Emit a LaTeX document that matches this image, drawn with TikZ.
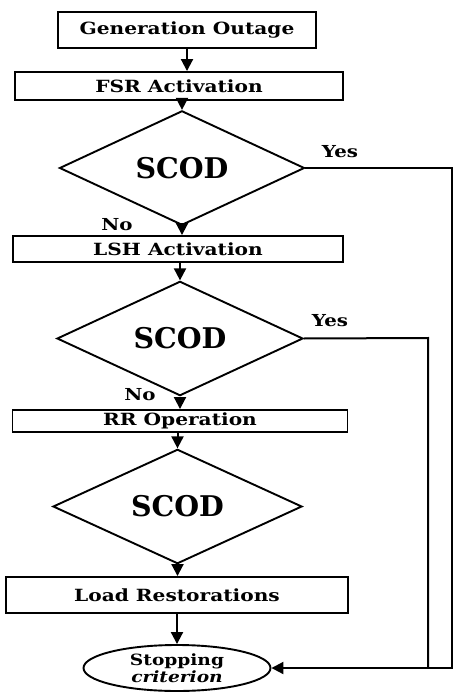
\documentclass[tikz,border=0pt]{standalone}
\usepackage{fontspec}
\setmainfont{DejaVu Serif}
\newfontfamily\boxfont[FakeStretch=1.2]{DejaVu Serif}
\usetikzlibrary{shapes.geometric,arrows.meta}
\begin{document}
\begin{tikzpicture}[x=1pt,y=-1pt,
  proc/.style={draw, line width=1.9pt, inner sep=0pt, font=\boxfont\bfseries\fontsize{16.8}{19}\selectfont},
  dec/.style={draw, diamond, line width=1.9pt, inner sep=0pt, font=\bfseries\fontsize{28.5}{32}\selectfont},
  conn/.style={line width=2pt, -{Triangle[length=12pt,width=12pt]}},
  link/.style={line width=2pt},
  lbl/.style={font=\boxfont\bfseries\fontsize{16.5}{18}\selectfont, inner sep=0pt},
  stoplbl/.style={font=\boxfont\bfseries\fontsize{15.5}{17}\selectfont, inner sep=0pt}]
\useasboundingbox (0,0) rectangle (457,692);
\node[proc, minimum width=258pt, minimum height=36pt] (gen) at (187,30) {Generation Outage};
\node[proc, minimum width=328pt, minimum height=28pt] (fsr) at (179,86) {FSR Activation};
\node[dec, minimum width=245pt, minimum height=80pt] (d1) at (182,168) {SCOD};
\node[proc, minimum width=330pt, minimum height=26pt] (lsh) at (178,249) {LSH Activation};
\node[dec, minimum width=246pt, minimum height=79pt] (d2) at (180,338.5) {SCOD};
\node[proc, minimum width=335pt, minimum height=22pt] (rr) at (180,421) {RR Operation};
\node[dec, minimum width=249pt, minimum height=83pt] (d3) at (177.5,506.5) {SCOD};
\node[proc, minimum width=342pt, minimum height=36pt] (lr) at (177,595) {Load Restorations};
\node[ellipse, draw, line width=1.9pt, minimum width=187pt, minimum height=46pt] (stop) at (177,668) {};
\node[stoplbl, align=center] (stoptxt) at (stop) {Stopping\\\textit{criterion}};
\coordinate (o1) at (452,168);
\coordinate (o2) at (428,338);
\draw[conn] (gen.south) -- (gen.south |- fsr.north);
\draw[conn] (fsr.south -| d1.north) -- (d1.north);
\draw[conn] (d1.south) -- (d1.south |- lsh.north);
\draw[conn] (lsh.south -| d2.north) -- (d2.north);
\draw[conn] (d2.south) -- (d2.south |- rr.north);
\draw[conn] (rr.south -| d3.north) -- (d3.north);
\draw[conn] (d3.south) -- (d3.south |- lr.north);
\draw[conn] (lr.south -| stop.north) -- (stop.north);
\draw[conn] (d1.east) -- (o1) -- (o1 |- stop.east) -- (stop.east);
\draw[link] (d2.east) -- (o2) -- (o2 |- stop.east);
\node[lbl] (yes1) at (340,152) {Yes};
\node[lbl] (yes2) at (330,321) {Yes};
\node[lbl] (no1) at (117,225) {No};
\node[lbl] (no2) at (140,395) {No};
\end{tikzpicture}
\end{document}
